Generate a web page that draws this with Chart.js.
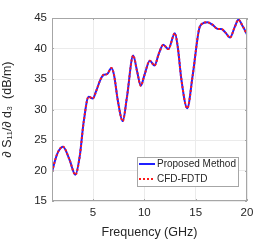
<!DOCTYPE html>
<html>
<head>
<meta charset="utf-8">
<script src="https://cdn.jsdelivr.net/npm/chart.js@4.4.1/dist/chart.umd.min.js"></script>
<style>
    html, body { margin: 0; padding: 0; background: #fff; }
    #wrap { width: 273px; height: 240px; position: relative; }
</style>
</head>
<body>
<div id="wrap"><canvas id="c"></canvas></div>
<script>
// values (frequency in GHz, sensitivity in dB/m)
const freq = [1.0, 1.5, 2.07, 2.7, 3.28, 3.7, 4.09, 4.57, 4.97, 5.3, 5.72, 6.04, 6.37, 6.79, 7.05, 7.4, 7.89, 8.3, 8.91, 9.3, 9.65, 10.0, 10.53, 10.99, 11.4, 11.84, 12.33, 12.97, 13.25, 13.6, 14.18, 14.7, 15.32, 15.58, 16.14, 16.63, 17.17, 17.5, 17.9, 18.35, 18.8, 19.16, 19.6, 20.0];
const proposed = [19.8, 22.7, 23.9, 21.8, 19.3, 22.3, 28.0, 32.1, 31.8, 33.0, 34.9, 35.7, 35.8, 36.8, 35.6, 31.6, 28.1, 32.0, 38.85, 36.2, 33.9, 35.6, 38.0, 37.2, 39.1, 40.6, 39.9, 42.5, 40.3, 35.0, 30.2, 35.5, 43.1, 44.0, 44.3, 43.9, 43.2, 43.2, 42.6, 41.8, 43.5, 44.7, 43.6, 42.3];
const cfdFdtd = proposed.slice();
const xTicks = [5, 10, 15, 20];
const yTicks = [15, 20, 25, 30, 35, 40, 45];
const seriesNames = ['Proposed Method', 'CFD-FDTD'];

const TEXT = '#262626';
const AXIS = '#a6a6a6';
const GRID = '#ebebeb';
const BLUE = '#2020ff';
const RED = '#ff1a1a';
const FONT = "'Liberation Sans', Arial, sans-serif";

const pts = (ys) => freq.map((f, i) => ({ x: f, y: ys[i] }));

// box around the axes, inward ticks and the legend inside the plot
const matlabBox = {
    id: 'matlabBox',
    afterDatasetsDraw(chart) {
        const { ctx, chartArea: a, scales } = chart;
        ctx.save();
        ctx.strokeStyle = AXIS;
        ctx.lineWidth = 1;
        ctx.strokeRect(a.left + 0.5, a.top + 0.5, a.right - a.left - 1, a.bottom - a.top - 1);
        ctx.beginPath();
        xTicks.forEach((t) => {
            const x = Math.round(scales.x.getPixelForValue(t)) + 0.5;
            ctx.moveTo(x, a.bottom); ctx.lineTo(x, a.bottom - 2);
            ctx.moveTo(x, a.top); ctx.lineTo(x, a.top + 2);
        });
        yTicks.forEach((t) => {
            const y = Math.round(scales.y.getPixelForValue(t)) + 0.5;
            ctx.moveTo(a.left, y); ctx.lineTo(a.left + 2, y);
            ctx.moveTo(a.right, y); ctx.lineTo(a.right - 2, y);
        });
        ctx.stroke();

        // legend
        const lx = 137, ly = 157, lw = 101, lh = 29;
        ctx.fillStyle = '#fff';
        ctx.fillRect(lx, ly, lw, lh);
        ctx.strokeStyle = AXIS;
        ctx.strokeRect(lx + 0.5, ly + 0.5, lw, lh);
        ctx.lineWidth = 2;
        ctx.strokeStyle = BLUE;
        ctx.beginPath(); ctx.moveTo(139, 164); ctx.lineTo(155, 164); ctx.stroke();
        ctx.strokeStyle = RED;
        ctx.setLineDash([2, 2]);
        ctx.beginPath(); ctx.moveTo(139, 179); ctx.lineTo(155, 179); ctx.stroke();
        ctx.setLineDash([]);
        ctx.fillStyle = TEXT;
        ctx.font = `10px ${FONT}`;
        ctx.textBaseline = 'middle';
        ctx.fillText(seriesNames[0], 157, 164.5);
        ctx.fillText(seriesNames[1], 157, 179.5);
        ctx.restore();
    },
};

new Chart(document.getElementById('c'), {
    type: 'scatter',
    data: {
        datasets: [
            {
                label: seriesNames[0],
                data: pts(proposed),
                showLine: true,
                borderColor: BLUE,
                borderWidth: 2,
                pointRadius: 0,
                cubicInterpolationMode: 'monotone',
                order: 2,
            },
            {
                label: seriesNames[1],
                data: pts(cfdFdtd),
                showLine: true,
                borderColor: RED,
                borderWidth: 2,
                borderDash: [2, 2],
                pointRadius: 0,
                cubicInterpolationMode: 'monotone',
                order: 1,
            },
        ],
    },
    options: {
        responsive: true,
        maintainAspectRatio: false,
        animation: false,
        layout: { padding: { top: 18, right: 26, left: 0, bottom: 0 } },
        plugins: { legend: { display: false }, tooltip: { enabled: false } },
        scales: {
            x: {
                type: 'linear',
                min: 1,
                max: 20,
                afterBuildTicks: (s) => { s.ticks = xTicks.map((v) => ({ value: v })); },
                afterFit: (s) => { s.height = 39; },
                grid: { color: GRID, drawTicks: false },
                border: { display: false },
                ticks: { color: TEXT, font: { family: FONT, size: 11.5 }, padding: 5, maxRotation: 0 },
                title: { display: true, text: 'Frequency (GHz)', color: TEXT, font: { family: FONT, size: 12.5 }, padding: { top: 1, bottom: 0 } },
            },
            y: {
                min: 15,
                max: 45,
                afterBuildTicks: (s) => { s.ticks = yTicks.map((v) => ({ value: v })); },
                afterFit: (s) => { s.width = 52; },
                grid: { color: GRID, drawTicks: false },
                border: { display: false },
                ticks: { color: TEXT, font: { family: FONT, size: 11.5 }, padding: 5 },
                title: { display: true, text: '\u2202 S\u2081\u2081/\u2202 d\u2083  (dB/m)', color: TEXT, font: { family: FONT, size: 12.5 }, padding: { top: 0, bottom: 2 } },
            },
        },
    },
    plugins: [matlabBox],
});
</script>
</body>
</html>
